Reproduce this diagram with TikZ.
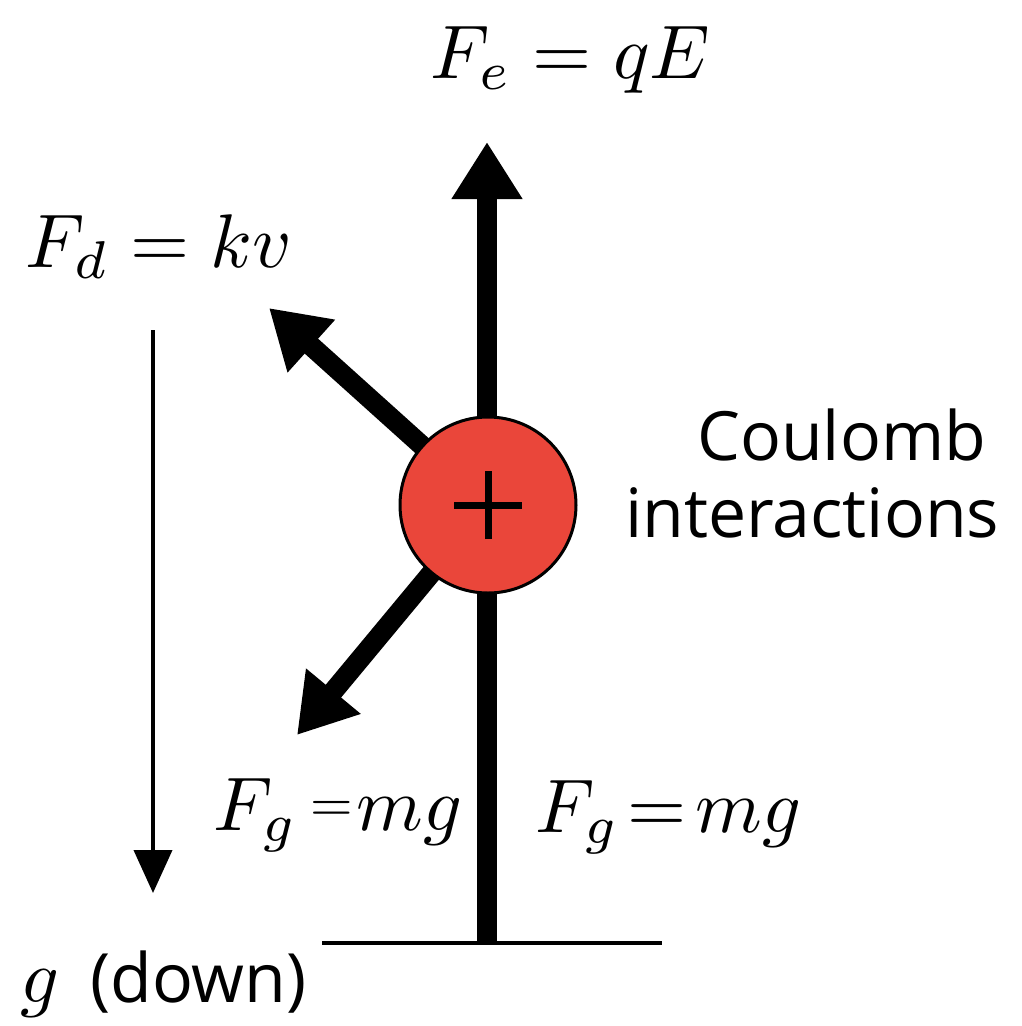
\documentclass[tikz,border=0pt]{standalone}
\usepackage{graphicx}
\usepackage{fontspec}
\newfontfamily\labelsans{Open Sans}
\usetikzlibrary{arrows.meta}
\definecolor{chargered}{RGB}{234,70,58}
\newcommand{\bigmath}[1]{\scalebox{7.6}{$#1$}}
\newcommand{\smalleq}{\mathrel{\vcenter{\hbox{\scalebox{0.72}{$=$}}}}}
\begin{document}
\begin{tikzpicture}[x=1pt,y=-1pt,
  force/.style={line width=20pt, -{Triangle[length=57pt,width=67pt]}},
  gravarrow/.style={line width=4pt, -{Triangle[length=43pt,width=38pt]}},
  mathlabel/.style={anchor=base west, inner sep=0pt},
  sanslabel/.style={anchor=base west, inner sep=0pt, font=\labelsans\fontsize{68}{72}\selectfont},
  chargenode/.style={circle, draw, line width=3pt, fill=chargered, minimum size=176pt, inner sep=0pt},
]
\useasboundingbox (0,0) rectangle (1022,1026);
\coordinate (c) at (488,505);
\coordinate (tipE) at (487,142);
\coordinate (foot) at (487,943);
\coordinate (tipD) at (269,308);
\coordinate (tipG) at (297,735);
\coordinate (gl) at (322,943);
\coordinate (gr) at (662,943);
\coordinate (gtop) at (153,330);
\coordinate (gbot) at (153,893);

\draw[force] (foot) -- (tipE);
\draw[force] (c) -- (tipD);
\draw[force] (c) -- (tipG);
\draw[line width=4pt] (gl) -- (gr);
\draw[gravarrow] (gtop) -- (gbot);

\node[chargenode] (q) at (c) {};
\draw[line width=7pt] ([xshift=-34pt]q.center) -- ([xshift=34pt]q.center);
\draw[line width=7pt] ([yshift=-34pt]q.center) -- ([yshift=34pt]q.center);

\node[mathlabel] (Fe) at (430,78) {\bigmath{F_e = qE}};
\node[mathlabel] (Fd) at (25,267) {\bigmath{F_d = kv}};
\node[mathlabel] (Fg1) at (213,830) {\bigmath{F_g\mkern-2mu\smalleq\mkern-4mu mg}};
\node[mathlabel] (Fg2) at (535,832) {\bigmath{F_g\mkern2mu{=}\mkern2mu mg}};
\node[mathlabel] (g) at (20,1002) {\bigmath{g}};
\node[sanslabel] (down) at (90,1002) {(down)};
\node[sanslabel] (cl1) at (697,460) {Coulomb};
\node[sanslabel] (cl2) at (625,537) {interactions};
\end{tikzpicture}
\end{document}
